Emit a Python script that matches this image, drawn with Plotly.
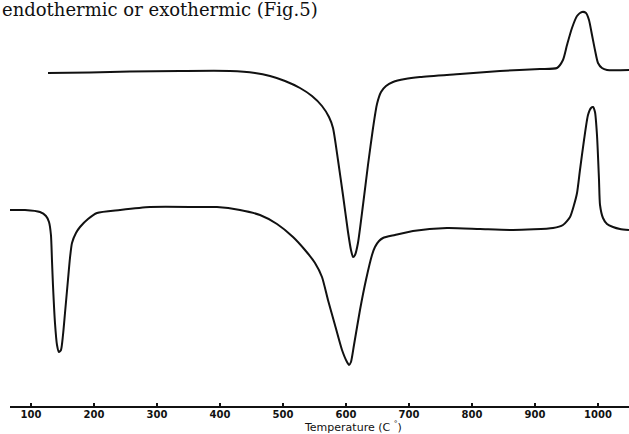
import plotly.graph_objects as go

# DTA traces: temperature (deg C) and differential signal (arbitrary units)
upper_temp = [127.0, 193.7, 257.1, 336.5, 415.9, 455.6, 479.4, 503.2, 527.0, 546.0,
              561.9, 573.0, 579.4, 587.3, 595.2, 603.2, 607.9, 611.1, 614.3, 619.0,
              627.0, 634.9, 642.9, 649.2, 655.6, 663.5, 674.6, 693.7, 717.5, 781.0,
              844.4, 907.9, 934.9, 944.4, 950.8, 958.7, 966.7, 974.6, 981.0, 985.7,
              990.5, 995.2, 1000.0, 1006.3, 1014.3, 1049.2]
upper_signal = [33.5, 33.55, 33.65, 33.7, 33.7, 33.5, 33.2, 32.7, 32.0, 31.2,
                30.2, 29.1, 28.0, 24.8, 21.3, 17.6, 15.8, 15.1, 15.3, 16.5,
                20.3, 24.3, 28.0, 30.4, 31.6, 32.2, 32.6, 32.9, 33.1, 33.4,
                33.7, 33.9, 34.0, 34.8, 36.3, 38.0, 39.2, 39.6, 39.5, 38.8,
                37.3, 35.8, 34.5, 34.0, 33.8, 33.8]

lower_temp = [66.7, 90.5, 114.3, 123.8, 128.6, 131.7, 133.3, 134.9, 138.1, 141.3,
              144.4, 147.6, 150.8, 154.0, 158.7, 161.9, 165.1, 171.4, 177.8, 190.5,
              204.8, 241.3, 288.9, 368.3, 395.2, 431.7, 463.5, 490.5, 515.9, 534.9,
              550.8, 561.9, 571.4, 582.5, 593.7, 601.6, 604.8, 607.9, 612.7, 622.2,
              631.7, 641.3, 646.0, 652.4, 658.7, 677.8, 706.3, 760.3, 812.7, 865.1,
              928.6, 944.4, 955.6, 961.9, 966.7, 971.4, 977.8, 984.1, 988.9, 992.1,
              995.2, 998.4, 1001.6, 1003.2, 1007.9, 1014.3, 1023.8, 1034.9, 1049.2]
lower_signal = [19.8, 19.8, 19.6, 19.2, 18.6, 17.3, 14.8, 12.3, 8.5, 6.3,
                5.6, 5.8, 7.3, 9.5, 12.8, 15.0, 16.5, 17.5, 18.1, 18.9,
                19.5, 19.8, 20.1, 20.1, 20.1, 19.8, 19.3, 18.4, 17.1, 15.8,
                14.5, 13.1, 10.8, 8.3, 5.8, 4.6, 4.3, 4.6, 6.3, 9.8,
                12.8, 15.3, 16.1, 16.7, 17.0, 17.3, 17.7, 18.0, 17.9, 17.8,
                18.0, 18.3, 19.1, 20.3, 21.5, 23.8, 26.8, 29.3, 30.0, 30.1,
                29.6, 27.3, 22.8, 20.3, 19.0, 18.4, 18.1, 17.9, 17.8]

tick_values = [100, 200, 300, 400, 500, 600, 700, 800, 900, 1000]
tick_labels = [str(v) for v in tick_values]

x_range = [66.7, 1049.2]
y_range = [0.2, 40.8]

ink = "#111111"

fig = go.Figure()
for temps, sig in [(upper_temp, upper_signal), (lower_temp, lower_signal)]:
    fig.add_trace(go.Scatter(
        x=temps, y=sig, mode="lines",
        line=dict(color=ink, width=2, shape="spline", smoothing=0.6),
        hoverinfo="skip", showlegend=False, cliponaxis=False,
    ))

fig.update_layout(
    width=629, height=434,
    margin=dict(l=10, r=0, t=0, b=28),
    paper_bgcolor="white", plot_bgcolor="white",
    showlegend=False,
    xaxis=dict(
        range=x_range, tickvals=tick_values, ticktext=tick_labels,
        showgrid=False, zeroline=False,
        showline=True, linecolor=ink, linewidth=2,
        ticks="inside", ticklen=3, tickwidth=1.5, tickcolor=ink,
        tickfont=dict(family="DejaVu Sans", size=10, color=ink, weight="bold"),
        ticklabelstandoff=-2,
    ),
    yaxis=dict(range=y_range, visible=False, showgrid=False, zeroline=False),
)

fig.add_annotation(
    text="Temperature (C <sup>°</sup>)",
    x=611, xref="x", y=-20 / 406, yref="paper",
    xanchor="center", yanchor="middle", showarrow=False,
    font=dict(family="DejaVu Sans", size=11, color=ink),
)

fig.add_annotation(
    text="endothermic or exothermic (Fig.5)",
    x=-10 / 619, xref="paper", y=(406 - 9) / 406, yref="paper",
    xanchor="left", yanchor="middle", showarrow=False,
    font=dict(family="DejaVu Serif", size=18, color=ink),
)

fig.write_html("out.html")
